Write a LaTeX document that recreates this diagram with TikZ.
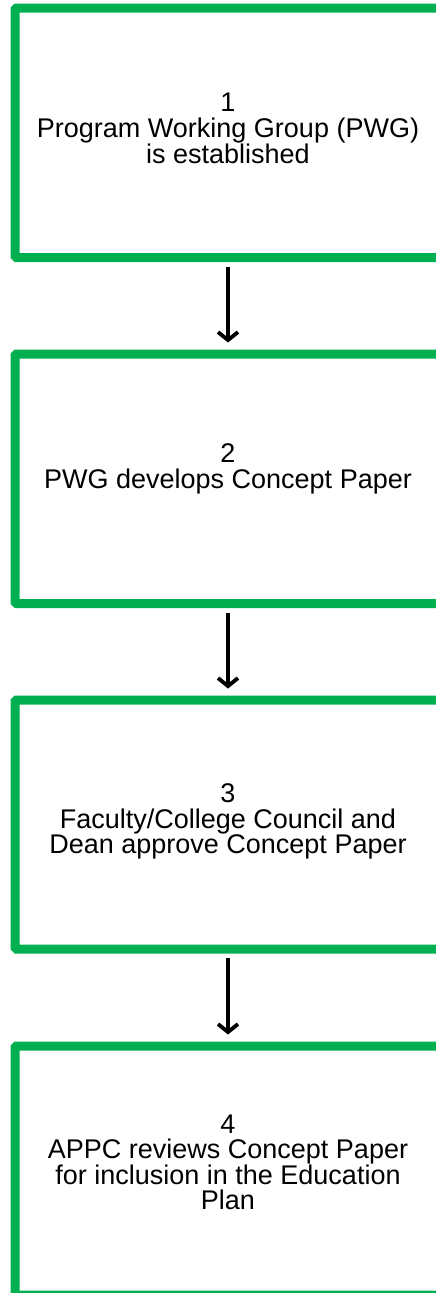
\documentclass[tikz,border=0pt]{standalone}
\usepackage{fontspec}
\setmainfont{Liberation Sans}
\usetikzlibrary{arrows.meta}
\definecolor{boxgreen}{HTML}{00B050}
\tikzset{
  stepbox/.style={draw=boxgreen, line width=9pt, rounded corners=1.5pt, minimum width=426pt, inner sep=0pt, fill=none},
  steptext/.style={anchor=north, inner sep=0pt, align=center, font=\fontsize{27}{25}\selectfont},
  flow/.style={line width=3.8pt, -{Straight Barb[length=8pt, width=20pt, line width=3.8pt]}, shorten <=4.5pt, shorten >=7pt}
}
\begin{document}
\begin{tikzpicture}[x=1pt, y=-1pt]
\useasboundingbox (0,0) rectangle (436,1293);
\node[stepbox, minimum height=249.5pt] (b1) at (228,132.75) {};
\node[stepbox, minimum height=249.5pt] (b2) at (228,478.75) {};
\node[stepbox, minimum height=249pt] (b3) at (228,824.5) {};
\node[stepbox, minimum height=249pt] (b4) at (228,1170.5) {};
\node[steptext] (t1) at (228,93) {1\\[1pt]Program Working Group (PWG)\\is established};
\node[steptext] (t2) at (228,443) {2\\[1pt]PWG develops Concept Paper};
\node[steptext] (t3) at (228,783) {3\\[1pt]Faculty/College Council and\\Dean approve Concept Paper};
\node[steptext] (t4) at (228,1115) {4\\APPC reviews Concept Paper\\for inclusion in the Education\\Plan};
\draw[flow] (b1.south) -- (b2.north);
\draw[flow] (b2.south) -- (b3.north);
\draw[flow] (b3.south) -- (b4.north);
\end{tikzpicture}
\end{document}
